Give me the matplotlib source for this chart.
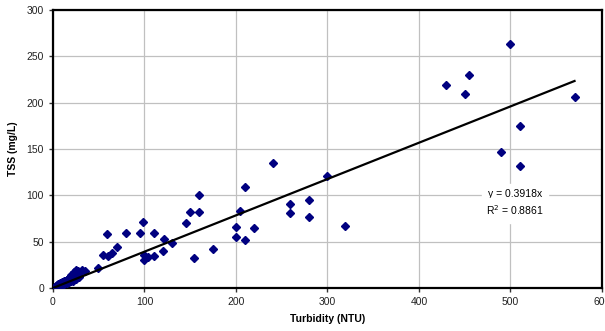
import matplotlib.pyplot as plt
import numpy as np

plt.rcParams['font.family'] = ['Liberation Sans', 'DejaVu Sans']

# Turbidity (NTU) and TSS (mg/L) samples
turbidity = [2, 3, 4, 5, 6, 7, 8, 9, 10, 11, 12, 13, 14, 15, 16, 17, 18, 19,
             20, 21, 22, 23, 24, 25, 26, 27, 28, 30, 32, 35, 22, 25, 28, 20,
             18, 15, 12, 10,
             49, 55, 60, 65, 70, 59, 80, 95, 110, 98, 100, 104, 110, 100,
             120, 121, 130, 145, 150, 154, 160, 160, 175,
             200, 200, 204, 210, 210, 220, 240, 259, 259, 280, 280, 300, 319,
             430, 450, 455, 490, 500, 510, 510, 570]
tss = [1, 2, 3, 2, 4, 3, 5, 4, 6, 5, 8, 7, 6, 9, 10, 8, 11, 12,
       14, 10, 13, 17, 15, 19, 16, 18, 14, 17, 19, 18, 8, 10, 12, 7,
       6, 5, 4, 3,
       22, 36, 34, 38, 44, 58, 59, 59, 59, 71, 30, 33, 34, 36,
       40, 53, 48, 70, 82, 32, 82, 100, 42,
       66, 55, 83, 52, 109, 65, 135, 91, 81, 95, 77, 121, 67,
       219, 209, 230, 147, 263, 175, 132, 206]

slope = 0.3918
r2 = 0.8861
x_fit = np.array([0, 570])

fig = plt.figure(figsize=(6.05, 3.31), dpi=100)
ax = fig.add_axes([0.0876, 0.13, 0.9074, 0.84])

ax.plot(turbidity, tss, 'D', color='#000080', markersize=4.3, zorder=3)
ax.plot(x_fit, slope * x_fit, color='black', lw=1.6, zorder=4)

ax.text(505, 101, f'y = {slope}x', ha='center', va='center', fontsize=7.5,
        backgroundcolor='white', zorder=2)
ax.text(505, 84, f'R$^2$ = {r2}', ha='center', va='center', fontsize=7.5,
        backgroundcolor='white', zorder=2)

ax.set_xlim(0, 600)
ax.set_ylim(0, 300)
ax.set_xticks(range(0, 601, 100))
ax.set_yticks(range(0, 301, 50))
ax.grid(True, color='#c0c0c0', lw=0.9)
ax.set_axisbelow(True)
for s in ax.spines.values():
    s.set_linewidth(1.6)
ax.tick_params(labelsize=7.5, length=3, width=1, colors='#333333', labelcolor='#222222')

ax.set_xlabel('Turbidity (NTU)', fontsize=7.5, fontweight='bold', labelpad=5)
ax.set_ylabel('TSS (mg/L)', fontsize=7.5, fontweight='bold', labelpad=6)

fig.savefig('out.png', dpi=100)
